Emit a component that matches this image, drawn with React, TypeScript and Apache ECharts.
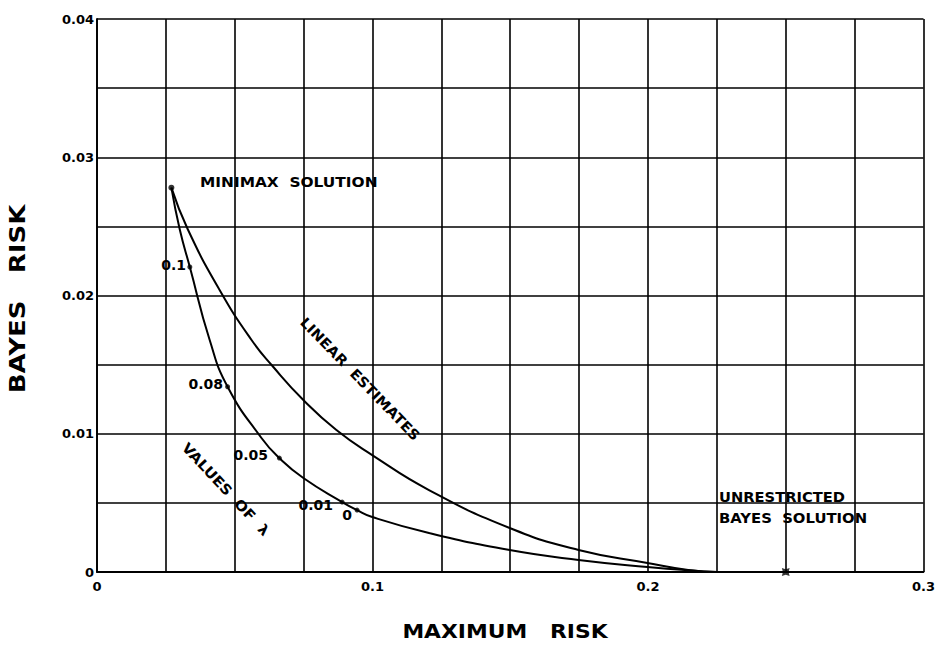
import React, { useEffect, useRef } from "react";
import * as echarts from "echarts";

// Linear estimates curve (maximum risk, Bayes risk)
const linearX = [0.027, 0.0329, 0.0445, 0.0561, 0.0637, 0.0749, 0.0869, 0.0999, 0.1205, 0.1498, 0.1748, 0.1998, 0.2146, 0.225, 0.25];
const linearY = [0.0278, 0.02481, 0.0204, 0.01678, 0.0149, 0.01244, 0.01027, 0.00846, 0.00593, 0.00318, 0.00159, 0.00065, 0.00014, 0, 0];

// Curve traced by values of lambda
const lambdaX = [0.027, 0.03, 0.0337, 0.0409, 0.0474, 0.0597, 0.0662, 0.0749, 0.089, 0.0944, 0.0999, 0.1205, 0.1498, 0.1748, 0.1998, 0.2182, 0.225, 0.25];
const lambdaY = [0.0278, 0.02481, 0.02206, 0.01678, 0.0134, 0.00969, 0.00824, 0.0068, 0.00506, 0.00448, 0.00398, 0.00282, 0.00159, 0.00087, 0.00036, 0.00007, 0, 0];

// Marked values of lambda on the curve
const lambdaValues = ["0.1", "0.08", "0.05", "0.01", "0"];
const lambdaDotX = [0.0337, 0.0474, 0.0662, 0.089, 0.0944];
const lambdaDotY = [0.02206, 0.0134, 0.00824, 0.00506, 0.00448];

const minimaxPoint = [0.027, 0.0278];
const bayesPoint = [0.25, 0];

const xTickLabels = ["0", "0.1", "0.2", "0.3"];
const yTickLabels = ["0", "0.01", "0.02", "0.03", "0.04"];

const FONT = "DejaVu Sans";

export default function App() {
  const ref = useRef<HTMLDivElement>(null);
  useEffect(() => {
    if (!ref.current) return;
    const chart = echarts.init(ref.current, undefined, { renderer: "svg" });
    const pairs = (xs: number[], ys: number[]) => xs.map((x, i) => [x, ys[i]]);
    const xLabel = (v: number) => {
      const k = Math.round(v / 0.1);
      return Math.abs(v - k * 0.1) < 1e-6 ? xTickLabels[k] ?? "" : "";
    };
    const yLabel = (v: number) => {
      const k = Math.round(v / 0.01);
      return Math.abs(v - k * 0.01) < 1e-7 ? yTickLabels[k] ?? "" : "";
    };
    const lineCommon = {
      type: "line" as const,
      showSymbol: false,
      smooth: 0.5,
      lineStyle: { color: "#000", width: 2 },
      silent: true,
    };
    const txt = (text: string, x: number, y: number, extra: any = {}) => ({
      type: "text",
      x,
      y,
      rotation: extra.rotation ?? 0,
      scaleX: extra.sx ?? 1,
      style: {
        text,
        fill: "#000",
        font: `bold ${extra.size ?? 14}px "${FONT}"`,
        align: extra.align ?? "left",
        verticalAlign: "middle",
      },
    });
    chart.setOption({
      animation: false,
      backgroundColor: "#fff",
      grid: { left: 97, top: 19, right: 12, bottom: 73, containLabel: false },
      xAxis: {
        type: "value",
        min: 0,
        max: 0.3,
        interval: 0.025,
        axisLine: { show: true, lineStyle: { color: "#000", width: 1.8 } },
        axisTick: { show: false },
        axisLabel: {
          formatter: xLabel,
          color: "#000",
          fontFamily: FONT,
          fontWeight: "bold",
          fontSize: 13,
          margin: 8,
          showMaxLabel: true,
          showMinLabel: true,
        },
        splitLine: { show: true, lineStyle: { color: "#000", width: 1.6 } },
      },
      yAxis: {
        type: "value",
        min: 0,
        max: 0.04,
        interval: 0.005,
        axisLine: { show: true, lineStyle: { color: "#000", width: 1.8 } },
        axisTick: { show: false },
        axisLabel: {
          formatter: yLabel,
          color: "#000",
          fontFamily: FONT,
          fontWeight: "bold",
          fontSize: 13,
          margin: 3,
        },
        splitLine: { show: true, lineStyle: { color: "#000", width: 1.6 } },
      },
      series: [
        { ...lineCommon, name: "Linear estimates", data: pairs(linearX, linearY) },
        { ...lineCommon, name: "Values of lambda", data: pairs(lambdaX, lambdaY) },
        {
          type: "scatter",
          name: "lambda dots",
          symbol: "circle",
          symbolSize: 5,
          itemStyle: { color: "#000" },
          data: pairs(lambdaDotX, lambdaDotY),
          silent: true,
        },
        {
          type: "scatter",
          name: "minimax",
          symbol: "circle",
          symbolSize: 6,
          itemStyle: { color: "#000" },
          data: [minimaxPoint],
          silent: true,
        },
        {
          type: "scatter",
          name: "bayes",
          symbol: "path://M5,0 L6.8,3.2 L10,5 L6.8,6.8 L5,10 L3.2,6.8 L0,5 L3.2,3.2 Z",
          symbolSize: 11,
          symbolRotate: 45,
          itemStyle: { color: "#000" },
          data: [bayesPoint],
          silent: true,
        },
      ],
      graphic: [
        txt("MINIMAX  SOLUTION", 200, 182, { sx: 1.1 }),
        txt(lambdaValues[0], 186, 265, { align: "right" }),
        txt(lambdaValues[1], 223, 384, { align: "right" }),
        txt(lambdaValues[2], 268, 455, { align: "right" }),
        txt(lambdaValues[3], 333, 505, { align: "right" }),
        txt(lambdaValues[4], 347, 515, { align: "center" }),
        txt("LINEAR  ESTIMATES", 360, 379, { align: "center", rotation: -0.8, sx: 1.07 }),
        txt("VALUES  OF  λ", 226, 489, { align: "center", rotation: -0.82, sx: 1.1 }),
        txt("UNRESTRICTED", 719, 497, { sx: 1.05 }),
        txt("BAYES  SOLUTION", 719, 518, { sx: 1.06 }),
        txt("BAYES   RISK", 18, 299, { align: "center", rotation: Math.PI / 2, size: 21, sx: 1.24 }),
        txt("MAXIMUM   RISK", 505, 632, { align: "center", size: 19, sx: 1.15 }),
      ],
    });
    return () => chart.dispose();
  }, []);
  return (
    <div
      ref={ref}
      style={{ position: "fixed", left: 0, top: 0, width: 938, height: 645, background: "#fff" }}
    />
  );
}
